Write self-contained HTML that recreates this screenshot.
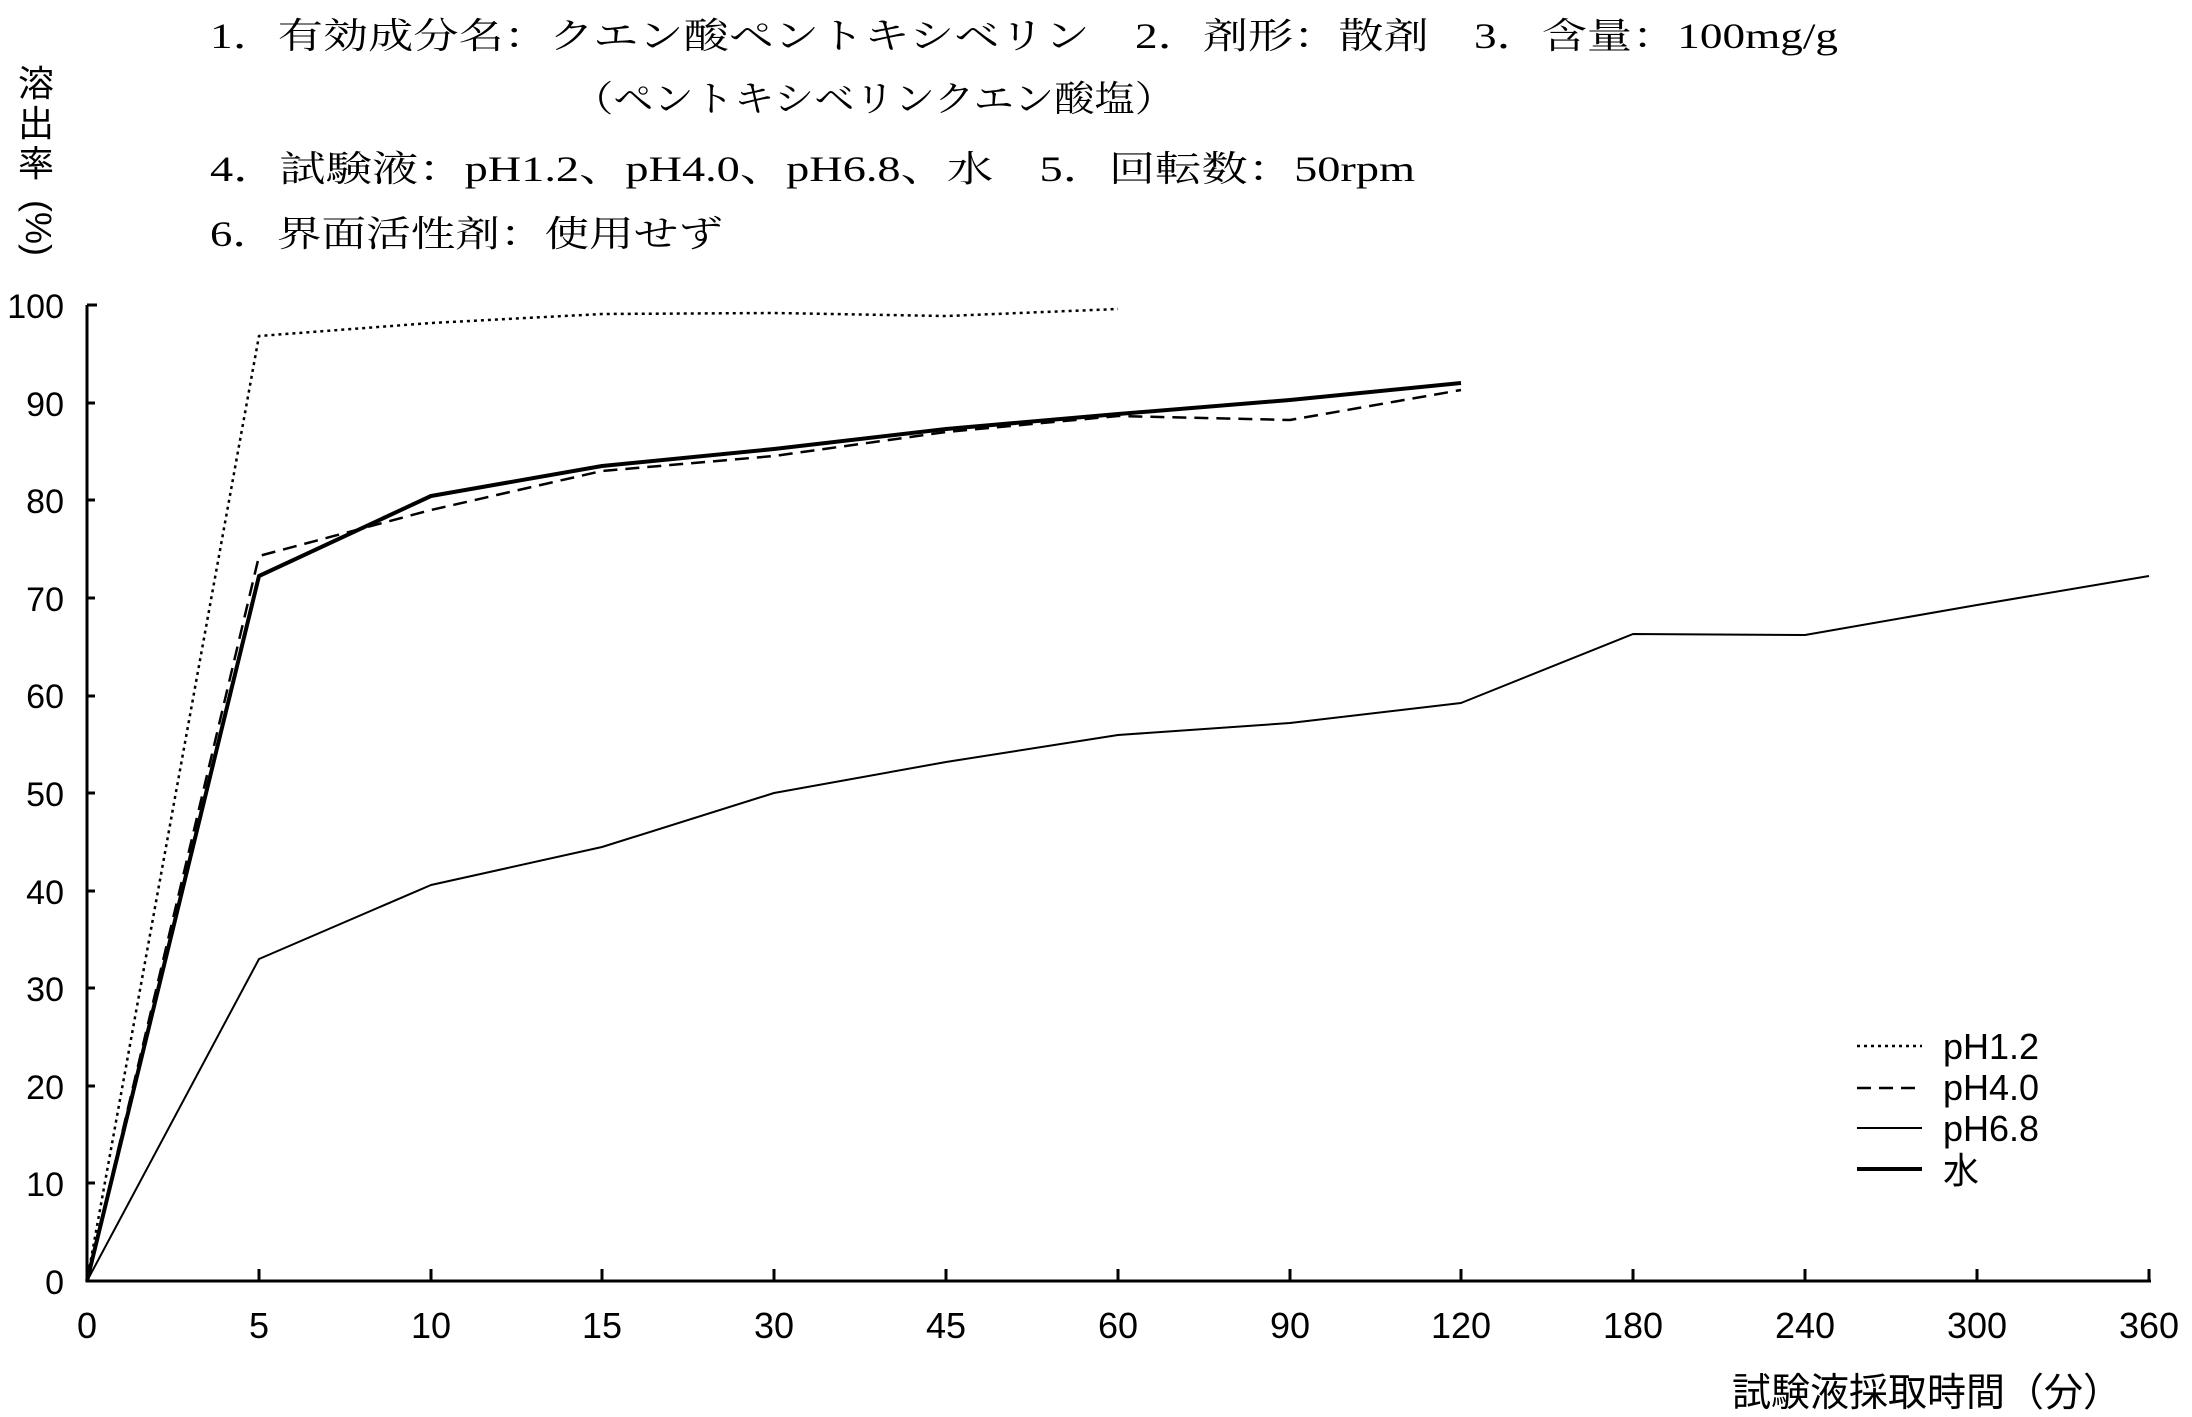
<!DOCTYPE html>
<html><head><meta charset="utf-8"><style>html,body{margin:0;padding:0;background:#fff}svg{display:block}</style></head>
<body>
<svg width="2192" height="1417" viewBox="0 0 2192 1417" xmlns="http://www.w3.org/2000/svg">
<g font-family="'Liberation Serif','Noto Serif CJK SC','Noto Sans CJK JP',serif" font-size="36" fill="#000">
<text x="210" y="48" textLength="1628" lengthAdjust="spacingAndGlyphs">1．有効成分名：クエン酸ペントキシベリン　2．剤形：散剤　3．含量：100mg/g</text>
<text x="573" y="111" textLength="602" lengthAdjust="spacingAndGlyphs">（ペントキシベリンクエン酸塩）</text>
<text x="210" y="181" textLength="1205" lengthAdjust="spacingAndGlyphs">4．試験液：pH1.2、pH4.0、pH6.8、水　5．回転数：50rpm</text>
<text x="210" y="246" textLength="513" lengthAdjust="spacingAndGlyphs">6．界面活性剤：使用せず</text>
</g>
<g font-family="'Liberation Sans','Noto Sans CJK JP',sans-serif" font-size="36" fill="#000" text-anchor="middle">
<text x="36" y="96">溶</text>
<text x="36" y="136">出</text>
<text x="36" y="176">率</text>
<text transform="translate(26,228) rotate(90)" font-size="36">(%)</text>
</g>
<g font-family="'Liberation Sans','Noto Sans CJK JP',sans-serif" font-size="34" fill="#000" text-anchor="end">
<text x="64" y="318">100</text><text x="64" y="416">90</text><text x="64" y="513">80</text><text x="64" y="611">70</text><text x="64" y="708">60</text><text x="64" y="806">50</text><text x="64" y="904">40</text><text x="64" y="1001">30</text><text x="64" y="1099">20</text><text x="64" y="1196">10</text><text x="64" y="1294">0</text>
</g>
<g font-family="'Liberation Sans','Noto Sans CJK JP',sans-serif" font-size="36" fill="#000" text-anchor="middle">
<text x="87" y="1338">0</text><text x="259" y="1338">5</text><text x="431" y="1338">10</text><text x="602" y="1338">15</text><text x="774" y="1338">30</text><text x="946" y="1338">45</text><text x="1118" y="1338">60</text><text x="1290" y="1338">90</text><text x="1461" y="1338">120</text><text x="1633" y="1338">180</text><text x="1805" y="1338">240</text><text x="1977" y="1338">300</text><text x="2149" y="1338">360</text>
<text x="2122" y="1406" text-anchor="end" font-size="39">試験液採取時間（分）</text>
</g>
<g stroke="#000" stroke-width="3" fill="none">
<path d="M87 305 V1281 H2151"/>
<path d="M87 305h10M87 403h8M87 500h8M87 598h8M87 696h8M87 793h8M87 891h8M87 988h8M87 1086h8M87 1183h8"/>
<path d="M259 1281v-12M431 1281v-12M602 1281v-12M774 1281v-12M946 1281v-12M1118 1281v-12M1290 1281v-12M1461 1281v-12M1633 1281v-12M1805 1281v-12M1977 1281v-12M2149 1281v-12"/>
</g>
<g fill="none" stroke="#000" stroke-linejoin="round">
<polyline stroke-width="2.5" stroke-dasharray="3,4" points="87,1281 259,336 431,323 602,314 774,313 946,316 1118,309"/>
<polyline stroke-width="2.5" stroke-dasharray="14,8" points="87,1281 259,556 431,510 602,471 774,456 946,432 1118,416 1290,420 1461,390"/>
<polyline stroke-width="2" points="87,1281 259,959 431,885 602,847 774,793 946,762 1118,735 1290,723 1461,703 1633,634 1805,635 1977,605 2149,576"/>
<polyline stroke-width="4" points="87,1281 259,576 431,496 602,466 774,449 946,429 1118,414 1290,400 1461,383"/>
</g>
<g stroke="#000" fill="none">
<path d="M1857 1046h65" stroke-width="2.5" stroke-dasharray="3,4"/>
<path d="M1857 1088h65" stroke-width="2.5" stroke-dasharray="14,8"/>
<path d="M1857 1128h65" stroke-width="2"/>
<path d="M1857 1169h65" stroke-width="4"/>
</g>
<g font-family="'Liberation Sans','Noto Sans CJK JP',sans-serif" font-size="36" fill="#000">
<text x="1943" y="1059">pH1.2</text><text x="1943" y="1100">pH4.0</text><text x="1943" y="1141">pH6.8</text><text x="1943" y="1183">水</text>
</g>
</svg>
</body></html>
